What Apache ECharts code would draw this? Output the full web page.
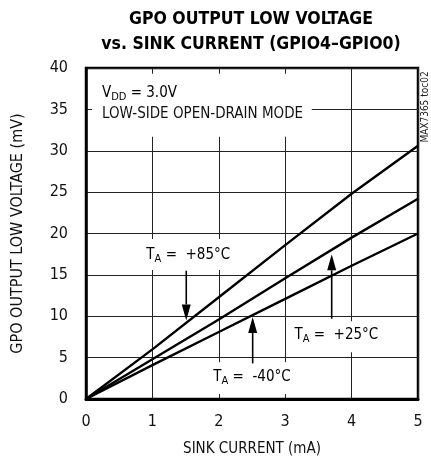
<!DOCTYPE html>
<html><head><meta charset="utf-8">
<script src="https://cdn.jsdelivr.net/npm/echarts@6/dist/echarts.min.js"></script>
<style>html,body{margin:0;padding:0;background:#fff}#c{width:431px;height:462px}</style>
</head><body><div id="c"></div>
<script>
// ---- data ----
const sinkCurrent = [0, 1, 2, 3, 4, 5];            // mA
const vol85  = [0, 6.0, 12.3, 18.6, 24.8, 30.6];    // mV, TA = +85°C
const vol25  = [0, 4.8, 9.6, 14.6, 19.5, 24.2];     // mV, TA = +25°C
const volM40 = [0, 4.1, 8.1, 12.1, 16.1, 20.0];     // mV, TA = -40°C
const xTicks = [0, 1, 2, 3, 4, 5];
const yTicks = [0, 5, 10, 15, 20, 25, 30, 35, 40];
const tempLabels = ['+85°C', '+25°C', '-40°C'];

// ---- annotation placement (data units) ----
const labelAt = [[1.54, 17.3], [3.77, 7.6], [2.5, 2.5]];
const arrowAt = [[1.51, 15.5, 9.5], [3.70, 9.7, 17.5], [2.51, 4.3, 9.9]]; // x, from, tip
const boxes = [[0.09, 3.40, 31.7, 39.3], [0.85, 2.25, 15.6, 19.35], [3.1, 4.9, 5.65, 9.4], [1.8, 3.2, 0.6, 4.45]];
const noteAt = [0.24, 36.9, 34.4];

const FONT = "'Liberation Sans Narrow','DejaVu Sans Condensed',sans-serif";
const chart = echarts.init(document.getElementById('c'), null, {renderer: 'canvas'});
const pairs = v => sinkCurrent.map((x, i) => [x, v[i]]);
const lineSeries = (name, v) => ({
  name, type: 'line', data: pairs(v), showSymbol: false, smooth: false, z: 5,
  lineStyle: {color: '#000', width: 2.4}, animation: false
});

const option = {
  animation: false,
  backgroundColor: '#fff',
  title: {
    text: 'GPO OUTPUT LOW VOLTAGE\nvs. SINK CURRENT (GPIO4\u2013GPIO0)',
    left: 246, top: 2, textAlign: 'center',
    textStyle: {fontFamily: FONT, fontWeight: 'bold', fontSize: 17.5, lineHeight: 25, color: '#000'}
  },
  grid: {left: 86, right: 13, top: 68, bottom: 61, show: true, borderColor: '#000', borderWidth: 2.5, backgroundColor: 'transparent'},
  xAxis: {
    type: 'value', min: xTicks[0], max: xTicks[xTicks.length - 1], interval: 1,
    name: 'SINK CURRENT (mA)', nameLocation: 'middle', nameGap: 43,
    nameTextStyle: {fontFamily: FONT, fontSize: 15, color: '#111'},
    axisLine: {show: true, lineStyle: {color: '#000', width: 3}},
    axisTick: {show: false},
    axisLabel: {fontFamily: FONT, fontSize: 16, color: '#111', margin: 15},
    splitLine: {show: true, lineStyle: {color: '#222', width: 1}}
  },
  yAxis: {
    type: 'value', min: yTicks[0], max: yTicks[yTicks.length - 1], interval: 5,
    name: 'GPO OUTPUT LOW VOLTAGE (mV)', nameLocation: 'middle', nameGap: 60, nameRotate: 90,
    nameTextStyle: {fontFamily: FONT, fontSize: 16, color: '#111'},
    axisLine: {show: true, lineStyle: {color: '#000', width: 2.5}},
    axisTick: {show: false},
    axisLabel: {fontFamily: FONT, fontSize: 16, color: '#111', margin: 18},
    splitLine: {show: true, lineStyle: {color: '#222', width: 1}}
  },
  series: [lineSeries('+85', vol85), lineSeries('+25', vol25), lineSeries('-40', volM40)]
};
chart.setOption(option);

const P = (x, y) => chart.convertToPixel({gridIndex: 0}, [x, y]);
const g = [];
boxes.forEach(b => {
  const a = P(b[0], b[3]), c = P(b[1], b[2]);
  g.push({type: 'rect', z: 1, shape: {x: a[0], y: a[1], width: c[0] - a[0], height: c[1] - a[1]}, style: {fill: '#fff'}});
});
const rich = {
  m: {fontFamily: FONT, fontSize: 15, color: '#111', lineHeight: 17, verticalAlign: 'top'},
  s: {fontFamily: FONT, fontSize: 11, color: '#111', lineHeight: 11, verticalAlign: 'bottom'}
};
tempLabels.forEach((t, i) => {
  const p = P(labelAt[i][0], labelAt[i][1]);
  g.push({type: 'text', z: 6, x: p[0], y: p[1],
    style: {text: '{m|T}{s|A}{m| =  ' + t + '}', rich, align: 'center', verticalAlign: 'middle'}});
});
arrowAt.forEach(a => {
  const s = P(a[0], a[1]), t = P(a[0], a[2]);
  const dir = Math.sign(t[1] - s[1]);
  const hl = 16, hw = 4.5;
  g.push({type: 'line', z: 6, shape: {x1: s[0], y1: s[1], x2: t[0], y2: t[1] - dir * hl}, style: {stroke: '#000', lineWidth: 1.6}});
  g.push({type: 'polygon', z: 6, shape: {points: [[t[0], t[1]], [t[0] - hw, t[1] - dir * hl], [t[0] + hw, t[1] - dir * hl]]}, style: {fill: '#000'}});
});
const n1 = P(noteAt[0], noteAt[1]), n2 = P(noteAt[0], noteAt[2]);
g.push({type: 'text', z: 6, x: n1[0], y: n1[1], style: {text: '{m|V}{s|DD}{m| = 3.0V}', rich, align: 'left', verticalAlign: 'middle'}});
g.push({type: 'text', z: 6, x: n2[0], y: n2[1], style: {text: 'LOW-SIDE OPEN-DRAIN MODE', fontFamily: FONT, fontSize: 15, fill: '#111', align: 'left', verticalAlign: 'middle'}});
g.push({type: 'text', z: 6, x: 425, y: 107, rotation: Math.PI / 2,
  style: {text: 'MAX7365 toc02', fontFamily: FONT, fontSize: 10, fill: '#222', align: 'center', verticalAlign: 'middle'}});
chart.setOption({graphic: {elements: g}});
</script>
</body></html>
